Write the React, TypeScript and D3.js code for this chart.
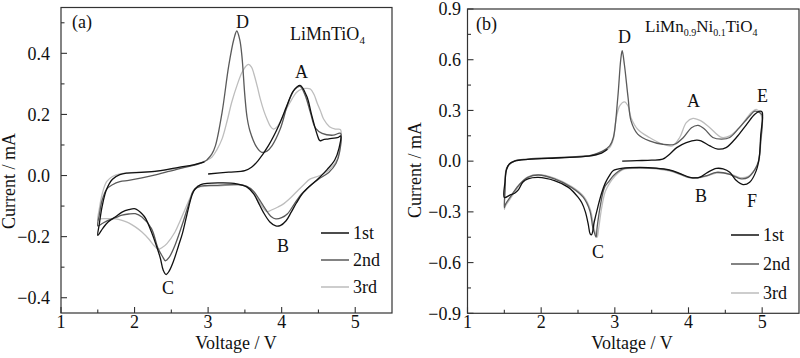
import React from 'react';
import * as d3 from 'd3';

type Pt = [number, number];

// ---------- Panel (a): LiMnTiO4 ----------
const A_CYCLE1: Pt[] = [
  [3.0, 0.005], [3.28, 0.011], [3.5, 0.016], [3.59, 0.027], [3.68, 0.049], [3.82, 0.098], [3.96, 0.163],
  [4.07, 0.228], [4.16, 0.277], [4.25, 0.295], [4.34, 0.26], [4.41, 0.196], [4.48, 0.136], [4.52, 0.114],
  [4.56, 0.117], [4.64, 0.12], [4.77, 0.125], [4.8, 0.13],
  [4.78, 0.09], [4.72, 0.05], [4.62, 0.02], [4.5, -0.01], [4.38, -0.035], [4.28, -0.06], [4.2, -0.09],
  [4.13, -0.12], [4.06, -0.148], [3.98, -0.164], [3.92, -0.165], [3.84, -0.152], [3.75, -0.12],
  [3.68, -0.087], [3.62, -0.06], [3.53, -0.038], [3.39, -0.027], [3.16, -0.024], [2.9, -0.03],
  [2.82, -0.045], [2.78, -0.065], [2.71, -0.13], [2.65, -0.19], [2.6, -0.228], [2.53, -0.28],
  [2.47, -0.313], [2.43, -0.324], [2.39, -0.31], [2.35, -0.27], [2.29, -0.225], [2.23, -0.185],
  [2.15, -0.14], [2.1, -0.125], [2.01, -0.109], [1.92, -0.112], [1.83, -0.12], [1.74, -0.135],
  [1.64, -0.152], [1.57, -0.172], [1.5, -0.196],
  [1.52, -0.16], [1.56, -0.1], [1.62, -0.045], [1.7, -0.012], [1.8, 0.003], [1.9, 0.008], [2.14, 0.011],
  [2.4, 0.018], [2.6, 0.027], [2.8, 0.035], [2.95, 0.045],
];
const A_CYCLE2: Pt[] = [
  [2.98, 0.05], [3.05, 0.07], [3.1, 0.098], [3.19, 0.207], [3.28, 0.359], [3.35, 0.446], [3.39, 0.473],
  [3.43, 0.445], [3.46, 0.39], [3.5, 0.26], [3.53, 0.19], [3.57, 0.145], [3.66, 0.093], [3.73, 0.076],
  [3.8, 0.08], [3.87, 0.098], [3.98, 0.152], [4.09, 0.239], [4.18, 0.283], [4.25, 0.292], [4.32, 0.262],
  [4.39, 0.207], [4.46, 0.155], [4.55, 0.138], [4.7, 0.132], [4.8, 0.138],
  [4.79, 0.08], [4.74, 0.04], [4.64, 0.01], [4.5, -0.012], [4.38, -0.035], [4.28, -0.058], [4.18, -0.09],
  [4.08, -0.125], [4.0, -0.138], [3.92, -0.142], [3.86, -0.135], [3.78, -0.11], [3.7, -0.08],
  [3.62, -0.052], [3.52, -0.035], [3.4, -0.03], [3.1, -0.032], [2.9, -0.035], [2.8, -0.05],
  [2.76, -0.076], [2.66, -0.152], [2.55, -0.228], [2.47, -0.268], [2.42, -0.279], [2.38, -0.265],
  [2.32, -0.239], [2.23, -0.174], [2.1, -0.136], [2.01, -0.125], [1.92, -0.126], [1.83, -0.13],
  [1.74, -0.138], [1.64, -0.147], [1.56, -0.157], [1.5, -0.165],
  [1.52, -0.13], [1.56, -0.08], [1.62, -0.045], [1.7, -0.03], [1.8, -0.02], [1.92, -0.016], [2.1, -0.008],
  [2.3, 0.003], [2.6, 0.022], [2.8, 0.033], [2.92, 0.042], [2.98, 0.05],
];
const A_CYCLE3: Pt[] = [
  [2.98, 0.05], [3.05, 0.06], [3.12, 0.085], [3.19, 0.12], [3.26, 0.18], [3.32, 0.239], [3.4, 0.3],
  [3.46, 0.337], [3.51, 0.357], [3.55, 0.364], [3.59, 0.355], [3.62, 0.335], [3.67, 0.29], [3.71, 0.25],
  [3.76, 0.21], [3.8, 0.185], [3.85, 0.16], [3.89, 0.152], [3.94, 0.16], [4.0, 0.185], [4.07, 0.22],
  [4.14, 0.25], [4.2, 0.272], [4.27, 0.283], [4.33, 0.285], [4.39, 0.283], [4.44, 0.265], [4.48, 0.239],
  [4.53, 0.21], [4.57, 0.185], [4.65, 0.16], [4.73, 0.152], [4.8, 0.15],
  [4.79, 0.09], [4.75, 0.05], [4.65, 0.02], [4.52, 0.0], [4.39, -0.011], [4.3, -0.03], [4.2, -0.054],
  [4.1, -0.078], [4.03, -0.092], [3.95, -0.103], [3.87, -0.112], [3.8, -0.118], [3.73, -0.1],
  [3.66, -0.07], [3.57, -0.043], [3.44, -0.03], [3.2, -0.033], [3.0, -0.035], [2.9, -0.036],
  [2.82, -0.043], [2.76, -0.07], [2.69, -0.109], [2.62, -0.148], [2.55, -0.185], [2.44, -0.223],
  [2.38, -0.235], [2.32, -0.241], [2.26, -0.228], [2.19, -0.207], [2.1, -0.185], [2.01, -0.168],
  [1.92, -0.155], [1.83, -0.147], [1.74, -0.142], [1.64, -0.141], [1.53, -0.142], [1.5, -0.147],
  [1.52, -0.11], [1.56, -0.06], [1.62, -0.02], [1.7, -0.003], [1.8, 0.005], [2.0, 0.01], [2.3, 0.014],
  [2.6, 0.025], [2.8, 0.035], [2.92, 0.044], [2.98, 0.05],
];

// ---------- Panel (b): LiMn0.9Ni0.1TiO4 ----------
const B_CYCLE1: Pt[] = [
  [3.1, 0.0], [3.3, 0.003], [3.5, 0.006], [3.65, 0.012], [3.74, 0.04], [3.84, 0.08], [3.97, 0.11],
  [4.11, 0.124], [4.17, 0.12], [4.29, 0.09], [4.4, 0.071], [4.51, 0.08], [4.65, 0.14], [4.79, 0.218],
  [4.9, 0.277], [4.97, 0.296], [5.0, 0.29],
  [4.98, 0.15], [4.96, 0.02], [4.92, -0.056], [4.83, -0.125], [4.74, -0.139], [4.65, -0.115],
  [4.56, -0.066], [4.47, -0.046], [4.38, -0.043], [4.26, -0.066], [4.15, -0.096], [4.02, -0.096],
  [3.88, -0.072], [3.74, -0.052], [3.56, -0.041], [3.34, -0.037], [3.11, -0.041], [2.98, -0.055],
  [2.92, -0.09], [2.87, -0.13], [2.82, -0.19], [2.77, -0.27], [2.72, -0.36], [2.685, -0.435],
  [2.665, -0.43], [2.64, -0.375], [2.6, -0.3], [2.55, -0.245], [2.5, -0.213], [2.37, -0.155],
  [2.18, -0.115], [1.96, -0.096], [1.82, -0.105], [1.75, -0.125], [1.69, -0.17], [1.64, -0.19],
  [1.58, -0.2], [1.5, -0.215],
  [1.51, -0.12], [1.53, -0.05], [1.57, -0.015], [1.64, 0.0], [1.82, 0.01], [2.27, 0.02], [2.64, 0.03],
  [2.82, 0.048], [2.9, 0.07],
];
const B_CYCLE2: Pt[] = [
  [2.66, 0.032], [2.84, 0.061], [2.93, 0.09], [2.98, 0.14], [3.04, 0.375], [3.08, 0.6], [3.1, 0.653],
  [3.13, 0.57], [3.18, 0.375], [3.22, 0.238], [3.31, 0.16], [3.47, 0.12], [3.65, 0.1], [3.81, 0.1],
  [3.93, 0.14], [4.04, 0.198], [4.13, 0.212], [4.22, 0.189], [4.33, 0.14], [4.45, 0.13], [4.56, 0.14],
  [4.69, 0.198], [4.83, 0.267], [4.9, 0.296], [4.97, 0.286], [5.0, 0.27],
  [4.98, 0.12], [4.95, 0.0], [4.9, -0.05], [4.81, -0.096], [4.72, -0.105], [4.65, -0.095], [4.56, -0.078],
  [4.38, -0.066], [4.25, -0.085], [4.1, -0.098], [4.0, -0.096], [3.88, -0.075], [3.74, -0.055],
  [3.56, -0.043], [3.3, -0.04], [3.11, -0.046], [2.98, -0.086], [2.92, -0.12], [2.86, -0.155],
  [2.8, -0.272], [2.76, -0.39], [2.745, -0.449], [2.72, -0.42], [2.7, -0.39], [2.66, -0.292],
  [2.57, -0.213], [2.41, -0.155], [2.18, -0.105], [1.96, -0.082], [1.82, -0.096], [1.71, -0.135],
  [1.6, -0.2], [1.51, -0.26], [1.5, -0.275],
  [1.51, -0.16], [1.52, -0.06], [1.55, -0.027], [1.64, 0.002], [1.82, 0.012], [2.27, 0.022], [2.66, 0.032],
];
const B_CYCLE3: Pt[] = [
  [2.66, 0.03], [2.84, 0.055], [2.93, 0.08], [2.98, 0.13], [3.02, 0.257], [3.07, 0.33], [3.13, 0.351],
  [3.18, 0.326], [3.22, 0.257], [3.31, 0.189], [3.47, 0.14], [3.65, 0.1], [3.78, 0.09], [3.88, 0.14],
  [3.97, 0.228], [4.06, 0.253], [4.17, 0.238], [4.29, 0.198], [4.45, 0.14], [4.56, 0.15], [4.69, 0.198],
  [4.85, 0.286], [4.92, 0.306], [4.97, 0.286], [5.0, 0.25],
  [4.98, 0.1], [4.95, -0.01], [4.9, -0.05], [4.81, -0.09], [4.72, -0.098], [4.65, -0.09], [4.56, -0.075],
  [4.38, -0.07], [4.25, -0.088], [4.1, -0.1], [4.0, -0.098], [3.88, -0.078], [3.74, -0.058],
  [3.56, -0.045], [3.3, -0.042], [3.11, -0.05], [3.0, -0.09], [2.93, -0.13], [2.87, -0.18],
  [2.82, -0.28], [2.78, -0.4], [2.76, -0.45], [2.74, -0.43], [2.71, -0.38], [2.67, -0.29],
  [2.58, -0.21], [2.42, -0.152], [2.18, -0.1], [1.96, -0.08], [1.82, -0.093], [1.71, -0.14],
  [1.6, -0.21], [1.51, -0.27], [1.5, -0.285],
  [1.51, -0.17], [1.52, -0.07], [1.55, -0.03], [1.64, 0.0], [1.82, 0.01], [2.27, 0.02], [2.66, 0.03],
];

const CYCLE_LABELS = ['1st', '2nd', '3rd'];
const CYCLE_COLORS = ['#111111', '#5a5a5a', '#bdbdbd'];
const X_TICKS = [1, 2, 3, 4, 5];
const X_MINOR = [1.5, 2.5, 3.5, 4.5];
const A_Y_TICKS = [-0.4, -0.2, 0, 0.2, 0.4];
const A_Y_MINOR = [-0.3, -0.1, 0.1, 0.3, 0.5];
const B_Y_TICKS = [-0.9, -0.6, -0.3, 0, 0.3, 0.6, 0.9];
const B_Y_MINOR = [-0.75, -0.45, -0.15, 0.15, 0.45, 0.75];

const FONT = '"Liberation Serif", "Times New Roman", serif';

type Ann = { t: string; x: number; y: number };

interface PanelProps {
  left: number;
  right: number;
  top: number;
  bottom: number;
  yDomain: [number, number];
  yTicks: number[];
  yMinor: number[];
  cycles: Pt[][];
  tickLabelX: number;
  yLabelX: number;
  yLabelY: number;
  xLabelX: number;
  legendX: number;
  legendY: number[];
  anns: Ann[];
  title: React.ReactNode;
}

function Panel(p: PanelProps) {
  const x = d3.scaleLinear().domain([1, 5.5]).range([p.left, p.right]);
  const y = d3.scaleLinear().domain(p.yDomain).range([p.bottom, p.top]);
  const line = d3
    .line<Pt>()
    .x((d) => x(d[0]))
    .y((d) => y(d[1]))
    .curve(d3.curveCatmullRom.alpha(0.5));
  const fmt = d3.format('.1f');
  const order = [2, 1, 0];
  return (
    <g fontFamily={FONT} fill="#111">
      {order.map((ci) => (
        <path key={ci} d={line(p.cycles[ci]) || ''} fill="none" stroke={CYCLE_COLORS[ci]} strokeWidth={1.3} />
      ))}
      <rect x={p.left} y={p.top} width={p.right - p.left} height={p.bottom - p.top} fill="none" stroke="#333" strokeWidth={1.2} />
      {X_TICKS.map((t) => (
        <g key={'x' + t}>
          <line x1={x(t)} x2={x(t)} y1={p.bottom} y2={p.bottom - 6} stroke="#333" strokeWidth={1.1} />
          <text x={x(t)} y={328} textAnchor="middle" fontSize={18}>{t}</text>
        </g>
      ))}
      {X_MINOR.map((t) => (
        <line key={'xm' + t} x1={x(t)} x2={x(t)} y1={p.bottom} y2={p.bottom - 3.5} stroke="#333" strokeWidth={1.1} />
      ))}
      {p.yTicks.map((t) => (
        <g key={'y' + t}>
          <line x1={p.left} x2={p.left + 6} y1={y(t)} y2={y(t)} stroke="#333" strokeWidth={1.1} />
          <text x={p.tickLabelX} y={y(t)} dy="0.35em" textAnchor="end" fontSize={18}>{fmt(t)}</text>
        </g>
      ))}
      {p.yMinor.map((t) => (
        <line key={'ym' + t} x1={p.left} x2={p.left + 3.5} y1={y(t)} y2={y(t)} stroke="#333" strokeWidth={1.1} />
      ))}
      <text x={p.xLabelX} y={348.5} textAnchor="middle" fontSize={18}>Voltage / V</text>
      <text transform={`translate(${p.yLabelX},${p.yLabelY}) rotate(-90)`} textAnchor="middle" fontSize={18}>
        Current / mA
      </text>
      {CYCLE_LABELS.map((lab, i) => (
        <g key={lab}>
          <line x1={p.legendX} x2={p.legendX + 28} y1={p.legendY[i]} y2={p.legendY[i]} stroke={CYCLE_COLORS[i]} strokeWidth={1.5} />
          <text x={p.legendX + 32} y={p.legendY[i]} dy="0.33em" fontSize={18}>{lab}</text>
        </g>
      ))}
      {p.anns.map((a, i) => (
        <text key={i} x={a.x} y={a.y} fontSize={18}>{a.t}</text>
      ))}
      {p.title}
    </g>
  );
}

const A_ANNS: Ann[] = [
  { t: '(a)', x: 72, y: 28 },
  { t: 'D', x: 236, y: 28 },
  { t: 'A', x: 295, y: 78 },
  { t: 'B', x: 277, y: 252 },
  { t: 'C', x: 162, y: 294 },
];
const B_ANNS: Ann[] = [
  { t: '(b)', x: 476, y: 30 },
  { t: 'D', x: 618, y: 43 },
  { t: 'A', x: 687, y: 107 },
  { t: 'E', x: 757, y: 102 },
  { t: 'B', x: 695, y: 202 },
  { t: 'F', x: 747, y: 207 },
  { t: 'C', x: 592, y: 258 },
];

export default function App() {
  return (
    <svg width={800} height={358} style={{ position: 'absolute', left: 0, top: 0, background: '#fff' }}>
      <rect width={800} height={358} fill="#fff" />
      <Panel
        left={61}
        right={392}
        top={7.5}
        bottom={313}
        yDomain={[-0.45, 0.55]}
        yTicks={A_Y_TICKS}
        yMinor={A_Y_MINOR}
        cycles={[A_CYCLE1, A_CYCLE2, A_CYCLE3]}
        tickLabelX={50}
        yLabelX={15}
        yLabelY={181}
        xLabelX={236}
        legendX={321}
        legendY={[233, 260, 287]}
        anns={A_ANNS}
        title={
          <text x={290} y={40} fontSize={18} fontFamily={FONT}>
            LiMnTiO<tspan fontSize={11} dy={4}>4</tspan>
          </text>
        }
      />
      <Panel
        left={467.5}
        right={799}
        top={9}
        bottom={313.3}
        yDomain={[-0.9, 0.9]}
        yTicks={B_Y_TICKS}
        yMinor={B_Y_MINOR}
        cycles={[B_CYCLE1, B_CYCLE2, B_CYCLE3]}
        tickLabelX={461}
        yLabelX={421}
        yLabelY={170}
        xLabelX={632}
        legendX={731}
        legendY={[235, 264, 293]}
        anns={B_ANNS}
        title={
          <text x={645} y={32} fontSize={17} fontFamily={FONT}>
            LiMn<tspan fontSize={10} dy={4}>0.9</tspan>
            <tspan dy={-4}>Ni</tspan>
            <tspan fontSize={10} dy={4}>0.1</tspan>
            <tspan dy={-4}>TiO</tspan>
            <tspan fontSize={10} dy={4}>4</tspan>
          </text>
        }
      />
    </svg>
  );
}
